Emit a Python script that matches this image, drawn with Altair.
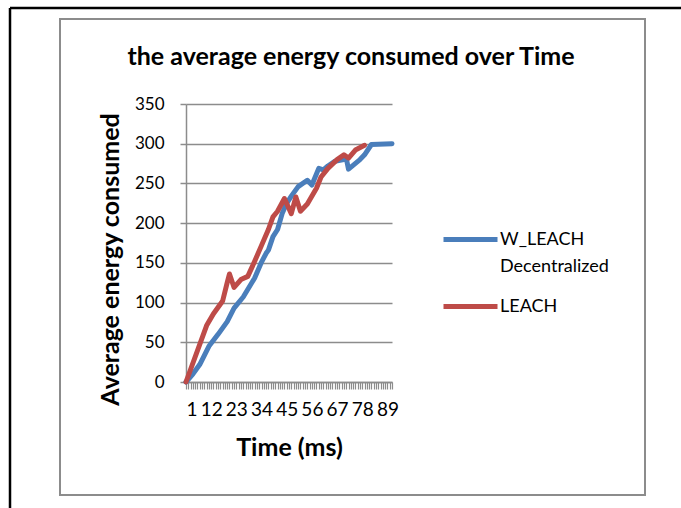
import altair as alt
import pandas as pd

# ---------------- data ----------------
title_text = "the average energy consumed over Time"
series_names = ["W_LEACH Decentralized", "LEACH"]
series_colors = ["#4A7EBB", "#BE4B48"]

categories = list(range(1, 92))
x_labels = [1, 12, 23, 34, 45, 56, 67, 78, 89]
y_ticks = [0, 50, 100, 150, 200, 250, 300, 350]

blue_time = [1, 4, 7, 11, 15, 19, 22, 26, 31, 34, 36, 37, 39, 41, 43, 45, 47, 50, 54, 56,
             59, 61, 63, 66, 70, 71, 72, 77, 79, 82, 91]
blue_val = [0, 10, 22, 45, 60, 76, 93, 107, 131, 151, 162, 166, 183, 192, 212, 225, 234, 246, 254, 248,
            269, 267, 272, 278, 280, 282, 268, 280, 286, 299, 300]

red_time = [1, 10, 13, 17, 19, 20, 22, 25, 28, 31, 34, 37, 39, 41, 44, 47, 49, 51, 54, 58,
            60, 63, 67, 70, 72, 75, 79]
red_val = [0, 71, 86, 102, 125, 136, 119, 129, 133, 152, 172, 192, 208, 215, 231, 212, 233, 215, 224, 244,
           258, 269, 280, 286, 282, 292, 298]

blue_df = pd.DataFrame({"time": blue_time, "value": blue_val, "series": series_names[0]})
red_df = pd.DataFrame({"time": red_time, "value": red_val, "series": series_names[1]})

FONT = "Lato"
GRID = "#8c8c8c"
W, H = 206, 278

color = alt.Color(
    "series:N",
    scale=alt.Scale(domain=series_names, range=series_colors),
    legend=alt.Legend(
        title=None,
        orient="none",
        legendX=255,
        legendY=106,
        padding=0,
        symbolType="stroke",
        symbolSize=2916,
        symbolStrokeWidth=5,
        labelOffset=0,
        labelFont=FONT,
        labelFontSize=18,
        labelColor="black",
        labelLimit=400,
        rowPadding=1,
        labelExpr="datum.label == 'LEACH' ? 'LEACH' : ['W_LEACH', 'Decentralized']",
    ),
)

x = alt.X(
    "time:Q",
    scale=alt.Scale(domain=[1, 91], nice=False, zero=False),
    axis=alt.Axis(
        values=categories,
        labelExpr="indexof([" + ",".join(str(v) for v in x_labels) + "], datum.value) >= 0 ? datum.label : ''",
        labelOverlap=False,
        labelFont=FONT,
        labelFontSize=19,
        labelColor="black",
        labelBaseline="top",
        labelPadding=11,
        tickSize=7,
        tickColor=GRID,
        tickWidth=1.2,
        domainColor=GRID,
        domainWidth=1.5,
        grid=False,
        title="Time (ms)",
        titleFont=FONT,
        titleFontSize=25,
        titleFontWeight="bold",
        titleColor="black",
        titleBaseline="alphabetic",
        titleY=73,
        titleX=103,
        titleAlign="center",
    ),
)

y = alt.Y(
    "value:Q",
    scale=alt.Scale(domain=[0, 350], nice=False),
    axis=alt.Axis(
        values=y_ticks,
        labelFont=FONT,
        labelFontSize=17,
        labelColor="black",
        labelPadding=16,
        tickSize=6,
        tickColor=GRID,
        tickWidth=1.5,
        domainColor=GRID,
        domainWidth=1.5,
        grid=True,
        gridColor=GRID,
        gridWidth=1.5,
        title="Average energy consumed",
        titleFont=FONT,
        titleFontSize=25,
        titleFontWeight="bold",
        titleColor="black",
        titleAngle=270,
        titleBaseline="alphabetic",
        titleAlign="center",
        titleX=-68,
        titleY=155,
    ),
)

line_kw = dict(strokeWidth=5, strokeJoin="round", strokeCap="round")
blue_line = alt.Chart(blue_df).mark_line(**line_kw).encode(x=x, y=y, color=color)
red_line = alt.Chart(red_df).mark_line(**line_kw).encode(x=x, y=y, color=color)

one = alt.Data(values=[{"k": 1}])
frame = alt.Chart(one).mark_rect(filled=False, stroke="#8c8c8c", strokeWidth=2).encode(
    x=alt.value(-126), x2=alt.value(459), y=alt.value(-85), y2=alt.value(391)
)
top_rule = alt.Chart(one).mark_rule(color="black", strokeWidth=2.5).encode(
    x=alt.value(-176), x2=alt.value(495), y=alt.value(-96)
)
left_rule = alt.Chart(one).mark_rule(color="black", strokeWidth=2.5).encode(
    x=alt.value(-176), y=alt.value(-96), y2=alt.value(404)
)

chart = alt.layer(frame, top_rule, left_rule, blue_line, red_line).properties(
    width=W,
    height=H,
    autosize=alt.AutoSizeParams(type="none"),
    padding={"left": 186, "top": 104, "right": 681 - 186 - W, "bottom": 508 - 104 - H},
    title=alt.TitleParams(
        text=title_text,
        font=FONT,
        fontSize=25,
        fontWeight="bold",
        color="black",
        anchor="middle",
        frame="group",
        dx=62,
        dy=63,
        offset=0,
    ),
    background="white",
)
chart.config = alt.Config(
    view=alt.ViewConfig(stroke=None),
    style={"guide-label": alt.MarkConfig(lineHeight=27)},
)

chart.save("out.html", embed_options={"renderer": "svg", "actions": False})
